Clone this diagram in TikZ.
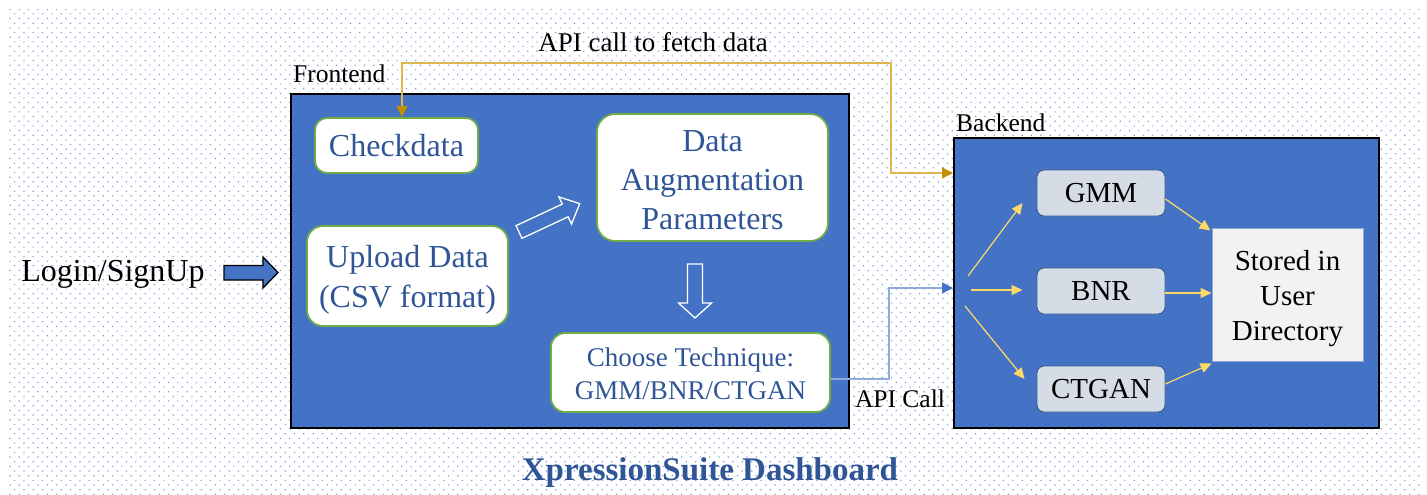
\documentclass[tikz,border=0pt]{standalone}
\usepackage{fontspec}
\setmainfont{Liberation Serif}
\usetikzlibrary{arrows.meta,patterns}

\definecolor{panelblue}{HTML}{4472C4}
\definecolor{textblue}{HTML}{2F5597}
\definecolor{boxgreen}{HTML}{70AD47}
\definecolor{techfill}{HTML}{D6DCE5}
\definecolor{techline}{HTML}{3A5A8C}
\definecolor{storefill}{HTML}{F2F2F2}
\definecolor{storeline}{HTML}{8FAADC}
\definecolor{goldline}{HTML}{DDB650}
\definecolor{goldtip}{HTML}{BF9000}
\definecolor{apiline}{HTML}{8FAADC}
\definecolor{apitip}{HTML}{4472C4}
\definecolor{fanyellow}{HTML}{FFD966}
\definecolor{dotblue}{RGB}{125,155,212}

% staggered dot grid for the page background
\pgfdeclarepatternformonly{bgdots}{\pgfqpoint{-1pt}{-1pt}}{\pgfqpoint{10pt}{10pt}}{\pgfqpoint{9.33pt}{9.33pt}}{%
  \pgfpathrectangle{\pgfqpoint{0pt}{0pt}}{\pgfqpoint{1.2pt}{1.2pt}}%
  \pgfpathrectangle{\pgfqpoint{4.67pt}{4.67pt}}{\pgfqpoint{1.2pt}{1.2pt}}%
  \pgfusepath{fill}}

\tikzset{
  panel/.style={draw=black, line width=2pt, fill=panelblue, inner sep=0pt, anchor=north west},
  fbox/.style={draw=boxgreen, line width=1.8pt, fill=white, rounded corners=12pt,
    text=textblue, align=center, inner sep=0pt},
  boxtext/.style={inner sep=0pt, align=center},
  techbox/.style={draw=techline, line width=0.9pt, fill=techfill, rounded corners=7pt,
    minimum width=128pt, minimum height=46pt, inner sep=0pt,
    font=\fontsize{29}{35}\selectfont},
  lbl/.style={inner sep=0pt, font=\fontsize{25.5}{30}\selectfont},
  fanarrow/.style={draw=fanyellow, line width=1.2pt,
    -{Triangle[length=11pt,width=10pt]}},
  fetch/.style={draw=goldline, line width=1.4pt,
    {Triangle[length=11pt,width=11pt,color=goldtip]}-{Triangle[length=11pt,width=11pt,color=goldtip]}},
  apicall/.style={draw=apiline, line width=1.4pt,
    -{Triangle[length=11pt,width=11pt,color=apitip]}},
  blockarrow/.style={draw=white, line width=1.3pt, fill=panelblue},
}

\begin{document}
\begin{tikzpicture}[x=1pt, y=-1pt]
\useasboundingbox (0,0) rectangle (1427,495);
\fill[white] (0,0) rectangle (1427,495);
\fill[pattern=bgdots, pattern color=dotblue] (8,10) rectangle (1421,495);

% ---- frontend panel ----
\node[panel, minimum width=558pt, minimum height=334pt] (front) at (290,93) {};
\node[lbl, anchor=base west] (frontlbl) at (293,82.7) {Frontend};

\node[fbox, minimum width=163pt, minimum height=55pt, font=\fontsize{32}{39}\selectfont]
  (check) at (396.5,145.5) {Checkdata};
\node[fbox, rounded corners=18pt, minimum width=231pt, minimum height=127pt,
  label={[boxtext, text=textblue, font=\fontsize{32}{39}\selectfont, yshift=-2.5pt]center:{Data\\Augmentation\\Parameters}}]
  (aug) at (712.5,177.5) {};
\node[fbox, rounded corners=16pt, minimum width=201pt, minimum height=100pt,
  label={[boxtext, text=textblue, font=\fontsize{32}{40}\selectfont, yshift=-3.5pt]center:{Upload Data\\(CSV format)}}]
  (upload) at (407.5,276) {};
\node[fbox, rounded corners=14pt, minimum width=279pt, minimum height=79pt,
  label={[boxtext, text=textblue, font=\fontsize{27}{33}\selectfont, yshift=-1pt]center:{Choose Technique:\\GMM/BNR/CTGAN}}]
  (choose) at (690.5,372.5) {};

% hollow block arrows inside the frontend
\draw[blockarrow, shift={(519,232)}, rotate=25]
  (0,-7) -- (51,-7) -- (51,-15) -- (67,0) -- (51,15) -- (51,7) -- (0,7) -- cycle;
\draw[blockarrow, shift={(695,264)}]
  (-7.5,0) -- (7.5,0) -- (7.5,39) -- (16.5,39) -- (0,54) -- (-16.5,39) -- (-7.5,39) -- cycle;

% ---- login ----
\node[inner sep=0pt, anchor=base, font=\fontsize{32}{38}\selectfont] (login) at (113,281) {Login/SignUp};
\draw[draw=black, line width=1.3pt, fill=panelblue]
  (224,265.5) -- (263,265.5) -- (263,257) -- (278,272.5) -- (263,288) -- (263,280) -- (224,280) -- cycle;

% ---- backend panel ----
\node[panel, minimum width=425pt, minimum height=290pt] (back) at (953,137) {};
\node[lbl, anchor=base west] (backlbl) at (956,131.7) {Backend};

\node[techbox] (gmm) at (1101,193) {GMM};
\node[techbox] (bnr) at (1101,291) {BNR};
\node[techbox] (ctgan) at (1101,389) {CTGAN};
\node[draw=storeline, line width=1pt, fill=storefill, minimum width=151pt, minimum height=133pt,
  inner sep=0pt,
  label={[boxtext, font=\fontsize{29}{35}\selectfont, yshift=-4pt]center:{Stored in\\User\\Directory}}]
  (store) at (1287.5,294.5) {};

% fan-out of the incoming request
\coordinate (fanA) at (968,276);
\coordinate (fanB) at (971,290);
\coordinate (fanC) at (965,306);
\draw[fanarrow] (fanA) -- ([xshift=-14pt,yshift=-10pt]gmm.west);
\draw[fanarrow] (fanB) -- ([xshift=-14pt,yshift=1pt]bnr.west);
\draw[fanarrow] (fanC) -- ([xshift=-12pt,yshift=10pt]ctgan.west);

% results collected in the user directory
\coordinate (bnrOut) at ([yshift=-2pt]bnr.east);
\draw[fanarrow] ([yshift=-6pt]gmm.east) -- ([xshift=-1pt,yshift=-3pt]store.north west);
\draw[fanarrow] (bnrOut) -- (store.west |- bnrOut);
\draw[fanarrow] ([yshift=5pt]ctgan.east) -- ([yshift=-2pt]store.south west);

% ---- connectors between the panels ----
\coordinate (fetchTurn) at (891,63);
\draw[fetch] ([xshift=5.5pt]check.north) |- (fetchTurn) |- ([yshift=-36pt]back.north west);
\node[lbl, anchor=base, font=\fontsize{27}{32}\selectfont] (fetchlbl) at (653,51.7) {API call to fetch data};

\coordinate (apiTurn) at (889,288);
\draw[apicall] ([yshift=-6.5pt]choose.east) -| (apiTurn) -- (back.west |- apiTurn);
\node[lbl, anchor=base] (apilbl) at (900,407) {API Call};

% ---- title ----
\node[inner sep=0pt, anchor=base, text=textblue, font=\bfseries\fontsize{33}{40}\selectfont]
  (title) at (710,480) {XpressionSuite Dashboard};
\end{tikzpicture}
\end{document}
